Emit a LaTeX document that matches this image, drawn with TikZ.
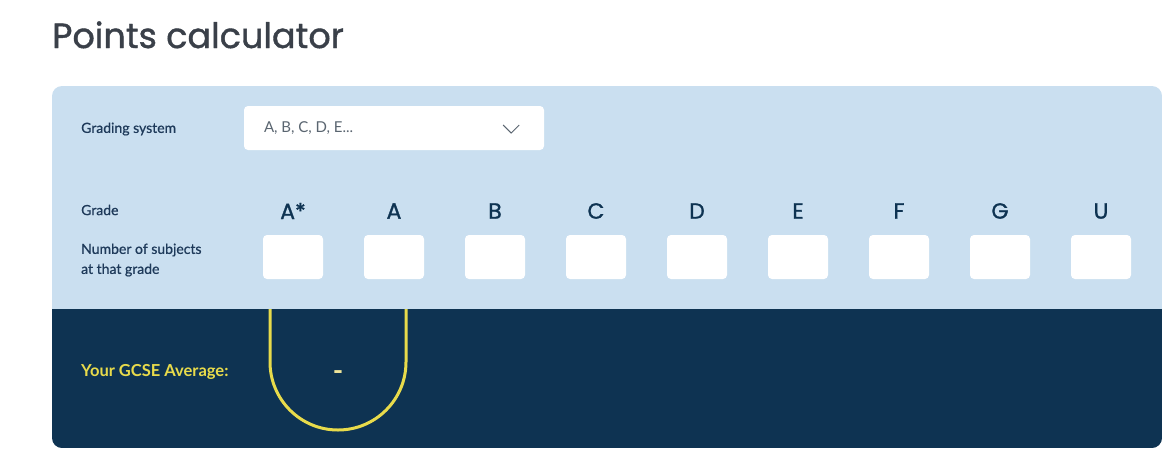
\documentclass[tikz,border=0pt]{standalone}
\usepackage{fontspec}
\setmainfont{Lato}
\newfontface\headfont{Poppins}[FakeBold=1.2]
\newfontface\labelfont{Lato}[FakeBold=0.8]
\usetikzlibrary{positioning}
\definecolor{paleBlue}{HTML}{CADFF0}
\definecolor{deepNavy}{HTML}{0E3352}
\definecolor{avgYellow}{HTML}{E8DB4B}
\definecolor{dashYellow}{HTML}{EFE59A}
\definecolor{labelText}{HTML}{1E3A5A}
\definecolor{titleText}{HTML}{3A4049}
\definecolor{hintText}{HTML}{5A6570}
\begin{document}
\begin{tikzpicture}
[x=1pt,y=-1pt,
  labelDecorate/.style={anchor=west,inner sep=0pt,text=labelText,align=left,font=\labelfont\fontsize{14}{20}\selectfont},%
  gradeDecorate/.style={inner sep=0pt,text=deepNavy,font=\headfont\fontsize{22}{24}\selectfont},%
  boxDecorate/.style={fill=white,rounded corners=4pt,minimum width=60pt,minimum height=44pt,inner sep=0pt}]
\useasboundingbox (0,0) rectangle (1165,451);
%% title
\node (title) [anchor=base west,inner sep=0pt,text=titleText,font=\headfont\fontsize{35}{40}\selectfont] at (52,48) {Points calculator};
%% panel
\begin{scope}
  \clip[rounded corners=10pt] (52,86) rectangle (1162,448);
  \fill[paleBlue] (52,86) rectangle (1162,309);
  \fill[deepNavy] (52,309) rectangle (1162,448);
\end{scope}
%% grading system
\node (gradingLabel) [labelDecorate] at (81,129) {Grading system};
\node (gradingBox) [fill=white,rounded corners=4pt,minimum width=300pt,minimum height=44pt,inner sep=0pt] at (394,128) {};
\node (gradingText) [anchor=west,inner sep=0pt,text=hintText,font=\fontsize{15}{16}\selectfont] at ([xshift=20pt]gradingBox.west) {A, B, C, D, E...};
\draw[hintText,line width=1pt] ([shift={(-41,-3)}]gradingBox.east) -- ([shift={(-33,5)}]gradingBox.east) -- ([shift={(-25,-3)}]gradingBox.east);
%% grades and counts
\node (gradeLabel) [labelDecorate] at (81,210) {Grade};
\node (countLabel) [labelDecorate] at (81,260) {Number of subjects\\at that grade};
\foreach \grade [count=\i] in {A*, A, B, C, D, E, F, G, U}
{
  \node (grade\i) at ({192+101*\i},211) [gradeDecorate] {\grade};
  \node (count\i) at ({192+101*\i},257) [boxDecorate] {};
}
%% average
\node (averageLabel) [anchor=west,inner sep=0pt,text=avgYellow,font=\bfseries\fontsize{16.5}{18}\selectfont] at (81,372) {Your GCSE Average:};
\draw[avgYellow,line width=3pt] (270,309) -- (270,362) arc[start angle=180,end angle=0,radius=68] -- (406,309);
\node (averageValue) [anchor=base,inner sep=0pt,text=dashYellow,font=\bfseries\fontsize{28}{28}\selectfont] at (338,380) {-};
\end{tikzpicture}
\end{document}
